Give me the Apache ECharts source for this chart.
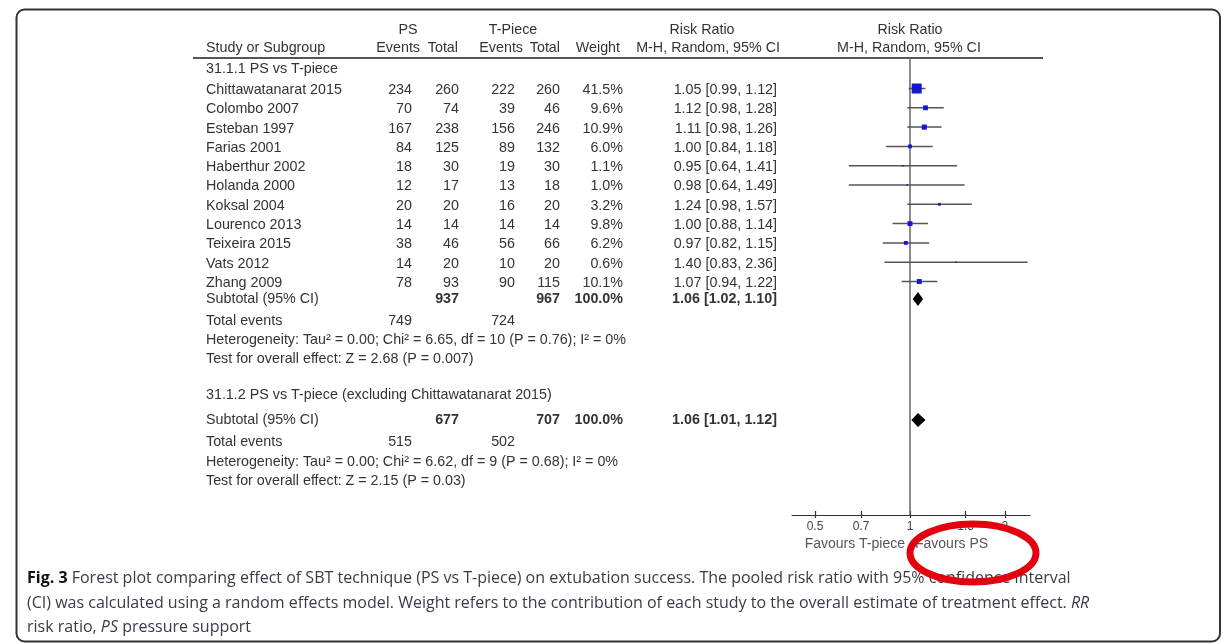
<!DOCTYPE html>
<html><head><meta charset="utf-8">
<script src="https://cdn.jsdelivr.net/npm/echarts@6/dist/echarts.min.js"></script>
<style>html,body{margin:0;padding:0;background:#fff}#c{width:1223px;height:643px}</style>
</head><body><div id="c"></div><script>
// ---------------- data ----------------
const studies = ['Chittawatanarat 2015','Colombo 2007','Esteban 1997','Farias 2001','Haberthur 2002','Holanda 2000','Koksal 2004','Lourenco 2013','Teixeira 2015','Vats 2012','Zhang 2009'];
const psEvents = [234,70,167,84,18,12,20,14,38,14,78];
const psTotal  = [260,74,238,125,30,17,20,14,46,20,93];
const tpEvents = [222,39,156,89,19,13,16,14,56,10,90];
const tpTotal  = [260,46,246,132,30,18,20,14,66,20,115];
const weights  = [41.5,9.6,10.9,6.0,1.1,1.0,3.2,9.8,6.2,0.6,10.1];
const rr   = [1.05,1.12,1.11,1.00,0.95,0.98,1.24,1.00,0.97,1.40,1.07];
const rrLo = [0.99,0.98,0.98,0.84,0.64,0.64,0.98,0.88,0.82,0.83,0.94];
const rrHi = [1.12,1.28,1.26,1.18,1.41,1.49,1.57,1.14,1.15,2.36,1.22];

const subgroupTitles = ['31.1.1 PS vs T-piece','31.1.2 PS vs T-piece (excluding Chittawatanarat 2015)'];
const subPsTotal = [937,677];
const subTpTotal = [967,707];
const subWeight  = [100.0,100.0];
const subRR   = [1.06,1.06];
const subLo   = [1.02,1.01];
const subHi   = [1.10,1.12];
const subPsEvents = [749,515];
const subTpEvents = [724,502];
const subHet  = ['Heterogeneity: Tau\u00b2 = 0.00; Chi\u00b2 = 6.65, df = 10 (P = 0.76); I\u00b2 = 0%',
                 'Heterogeneity: Tau\u00b2 = 0.00; Chi\u00b2 = 6.62, df = 9 (P = 0.68); I\u00b2 = 0%'];
const subTest = ['Test for overall effect: Z = 2.68 (P = 0.007)','Test for overall effect: Z = 2.15 (P = 0.03)'];

const tickValues = [0.5,0.7,1,1.5,2];
const favoursLeft = 'Favours T-piece', favoursRight = 'Favours PS';

// ---------------- layout ----------------
const FF = '"Liberation Sans", Arial, sans-serif';
const L = {
  W:1223, H:643, unit:19.3, row0:90,
  cols:{study:206, psEv:412, psTot:459, tpEv:515, tpTot:560, weight:623, rr:777},
  hdr1:30, hdr2:48, hline:58, hlineX:[193,1043],
  sub1Title:69.5, sub1Total:299, sub1Ev:321, sub1Het:340.5, sub1Test:359.5,
  sub2Title:395.5, sub2Total:420, sub2Ev:442, sub2Het:462, sub2Test:481,
  plotLeft:792, plotWidth:238, axisY:515, favY:544,
  font:'14.3px ' + FF,
  bold:'bold 14.3px ' + FF,
  txt:'#333'
};
const toRow = px => (px - L.row0) / L.unit;
const lnMin = (L.plotLeft - 910) / 137, lnMax = (L.plotLeft + L.plotWidth - 910) / 137;

// ---------------- text table ----------------
const texts = [];
function T(x, ypx, text, align, bold){ texts.push({x, y:toRow(ypx), text, align:align||'left', bold:!!bold}); }
T(408, L.hdr1, 'PS', 'center');
T(513, L.hdr1, 'T-Piece', 'center');
T(702, L.hdr1, 'Risk Ratio', 'center');
T(910, L.hdr1, 'Risk Ratio', 'center');
T(L.cols.study, L.hdr2, 'Study or Subgroup');
T(420, L.hdr2, 'Events', 'right');
T(458, L.hdr2, 'Total', 'right');
T(523, L.hdr2, 'Events', 'right');
T(560, L.hdr2, 'Total', 'right');
T(620, L.hdr2, 'Weight', 'right');
T(780, L.hdr2, 'M-H, Random, 95% CI', 'right');
T(909, L.hdr2, 'M-H, Random, 95% CI', 'center');
const f2 = v => v.toFixed(2);
studies.forEach((s, i) => {
  const y = L.row0 + i * L.unit;
  T(L.cols.study, y, s);
  T(L.cols.psEv, y, String(psEvents[i]), 'right');
  T(L.cols.psTot, y, String(psTotal[i]), 'right');
  T(L.cols.tpEv, y, String(tpEvents[i]), 'right');
  T(L.cols.tpTot, y, String(tpTotal[i]), 'right');
  T(L.cols.weight, y, weights[i].toFixed(1) + '%', 'right');
  T(L.cols.rr, y, f2(rr[i]) + ' [' + f2(rrLo[i]) + ', ' + f2(rrHi[i]) + ']', 'right');
});
const subPos = [
  {title:L.sub1Title, total:L.sub1Total, ev:L.sub1Ev, het:L.sub1Het, test:L.sub1Test},
  {title:L.sub2Title, total:L.sub2Total, ev:L.sub2Ev, het:L.sub2Het, test:L.sub2Test}
];
subPos.forEach((p, k) => {
  T(L.cols.study, p.title, subgroupTitles[k]);
  T(L.cols.study, p.total, 'Subtotal (95% CI)');
  T(L.cols.psTot, p.total, String(subPsTotal[k]), 'right', true);
  T(L.cols.tpTot, p.total, String(subTpTotal[k]), 'right', true);
  T(L.cols.weight, p.total, subWeight[k].toFixed(1) + '%', 'right', true);
  T(L.cols.rr, p.total, f2(subRR[k]) + ' [' + f2(subLo[k]) + ', ' + f2(subHi[k]) + ']', 'right', true);
  T(L.cols.study, p.ev, 'Total events');
  T(L.cols.psEv, p.ev, String(subPsEvents[k]), 'right');
  T(L.cols.tpEv, p.ev, String(subTpEvents[k]), 'right');
  T(L.cols.study, p.het, subHet[k]);
  T(L.cols.study, p.test, subTest[k]);
});

const chart = echarts.init(document.getElementById('c'), null, {renderer:'canvas'});
const yMin0 = toRow(0), yMax0 = toRow(L.H), yMax1 = toRow(L.axisY);
const capFont = '16px "Open Sans", sans-serif', capCol = '#3a3a48';
const tickLn = tickValues.map(Math.log);

chart.setOption({
  animation:false,
  backgroundColor:'#fff',
  grid:[
    {left:0, top:0, width:L.W, height:L.H},
    {left:L.plotLeft, top:0, width:L.plotWidth, height:L.axisY}
  ],
  xAxis:[
    {type:'value', gridIndex:0, min:0, max:L.W, show:false},
    {type:'value', gridIndex:1, min:lnMin, max:lnMax, position:'bottom',
     axisLine:{show:true, onZero:false, lineStyle:{color:'#333', width:1}},
     axisTick:{show:true, customValues:tickLn, length:3, lineStyle:{color:'#333', width:1.2}},
     axisLabel:{show:true, customValues:tickLn, margin:6, color:'#444', fontSize:12,
       fontFamily:FF,
       formatter:v => String(Math.round(Math.exp(v) * 10) / 10)},
     splitLine:{show:false}},
    {type:'value', gridIndex:1, min:lnMin, max:lnMax, position:'bottom',
     axisLine:{show:false, onZero:false},
     axisTick:{show:true, inside:true, customValues:tickLn, length:4, lineStyle:{color:'#333', width:1.2}},
     axisLabel:{show:false}, splitLine:{show:false}}
  ],
  yAxis:[
    {type:'value', gridIndex:0, inverse:true, min:yMin0, max:yMax0, show:false},
    {type:'value', gridIndex:1, inverse:true, min:yMin0, max:yMax1, show:false}
  ],
  series:[
    { // header rule
      type:'line', xAxisIndex:0, yAxisIndex:0, symbol:'none', silent:true,
      data:[[L.hlineX[0], toRow(L.hline)], [L.hlineX[1], toRow(L.hline)]],
      lineStyle:{color:'#555', width:2}
    },
    { // line of no effect
      type:'line', xAxisIndex:1, yAxisIndex:1, symbol:'none', silent:true,
      data:[[0, toRow(L.hline)], [0, yMax1]],
      lineStyle:{color:'#666', width:1.5}
    },
    { // studies: CI + box
      type:'custom', xAxisIndex:1, yAxisIndex:1, silent:true, z:4,
      data:rr.map((v, i) => [Math.log(v), i, Math.log(rrLo[i]), Math.log(rrHi[i]), weights[i]]),
      renderItem:(params, api) => {
        const c = api.coord([api.value(0), api.value(1)]);
        const l = api.coord([api.value(2), api.value(1)]);
        const h = api.coord([api.value(3), api.value(1)]);
        const s = Math.max(1.5, 1.55 * Math.sqrt(api.value(4)));
        const yy = c[1] - 1.5;
        return {type:'group', children:[
          {type:'line', shape:{x1:l[0], y1:yy, x2:h[0], y2:yy}, style:{stroke:'#555', lineWidth:1.5}},
          {type:'rect', shape:{x:c[0] - s / 2, y:yy - s / 2, width:s, height:s}, style:{fill:'#1515d5'}}
        ]};
      }
    },
    { // subtotal diamonds
      type:'custom', xAxisIndex:1, yAxisIndex:1, silent:true, z:4,
      data:subRR.map((v, k) => [Math.log(v), toRow(subPos[k].total), Math.log(subLo[k]), Math.log(subHi[k])]),
      renderItem:(params, api) => {
        const c = api.coord([api.value(0), api.value(1)]);
        const l = api.coord([api.value(2), api.value(1)]);
        const h = api.coord([api.value(3), api.value(1)]);
        const hh = 7;
        return {type:'polygon', shape:{points:[[l[0], c[1]], [c[0], c[1] - hh], [h[0], c[1]], [c[0], c[1] + hh]]},
                style:{fill:'#000'}};
      }
    },
    { // table text
      type:'custom', xAxisIndex:0, yAxisIndex:0, silent:true, z:5,
      data:texts.map((t, i) => [t.x, t.y, i]),
      renderItem:(params, api) => {
        const t = texts[api.value(2)];
        const p = api.coord([api.value(0), api.value(1)]);
        return {type:'text', x:p[0], y:p[1],
          style:{text:t.text, align:t.align, verticalAlign:'middle', font:t.bold ? L.bold : L.font, fill:L.txt}};
      }
    }
  ],
  graphic:[
    {type:'rect', shape:{x:16.5, y:9.5, width:1203.5, height:632, r:8}, style:{fill:'none', stroke:'#333', lineWidth:2}, z:1},
    {type:'text', x:905, y:L.favY, style:{text:favoursLeft, align:'right', verticalAlign:'middle', font:'14px ' + FF, fill:'#555'}},
    {type:'text', x:915, y:L.favY, style:{text:favoursRight, align:'left', verticalAlign:'middle', font:'14px ' + FF, fill:'#555'}},
    {type:'text', x:27, y:578, style:{
      text:'{b|Fig. 3} Forest plot comparing effect of SBT technique (PS vs T-piece) on extubation success. The pooled risk ratio with 95% confidence interval',
      verticalAlign:'middle', font:capFont, fill:capCol,
      rich:{b:{font:'bold 16px "Open Sans", sans-serif', fill:'#111'}}}},
    {type:'text', x:27, y:603, style:{
      text:'(CI) was calculated using a random effects model. Weight refers to the contribution of each study to the overall estimate of treatment effect. {i|RR}',
      verticalAlign:'middle', font:capFont, fill:capCol,
      rich:{i:{font:'italic 16px "Open Sans", sans-serif', fill:capCol}}}},
    {type:'text', x:27, y:627, style:{
      text:'risk ratio, {i|PS} pressure support',
      verticalAlign:'middle', font:capFont, fill:capCol,
      rich:{i:{font:'italic 16px "Open Sans", sans-serif', fill:capCol}}}},
    {type:'ellipse', shape:{cx:973, cy:553, rx:63, ry:29}, style:{fill:'none', stroke:'#e3000f', lineWidth:7}, z:100}
  ]
});
</script></body></html>
